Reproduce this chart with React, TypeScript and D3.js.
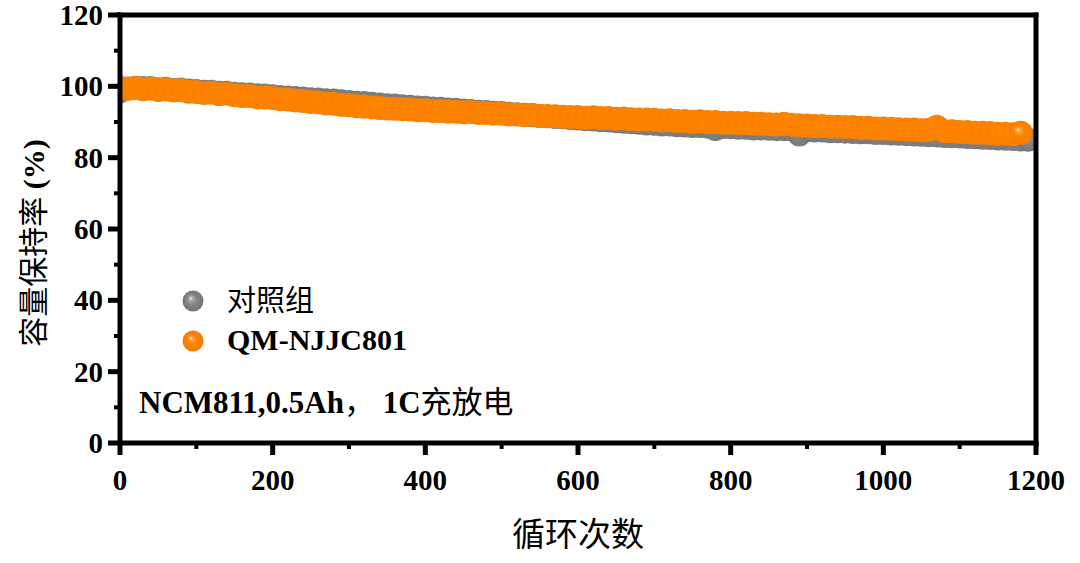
import React from "react";
import * as d3 from "d3";

const CYCLE_STEP = 10;

// 对照组 capacity retention (%) every 10 cycles, 0..1190
const controlValues = [
  98.6, 99.4, 99.6, 99.5, 99.5, 99.2, 99.3, 99.0, 99.1, 98.8,
  98.7, 98.5, 98.5, 98.2, 98.2, 97.9, 97.8, 97.7, 97.5, 97.4,
  97.2, 97.0, 96.9, 96.7, 96.6, 96.4, 96.3, 96.1, 96.0, 95.8,
  95.6, 95.4, 95.3, 95.1, 94.9, 94.7, 94.6, 94.4, 94.3, 94.1,
  94.0, 93.8, 93.7, 93.5, 93.4, 93.2, 93.1, 92.9, 92.8, 92.6,
  92.5, 92.3, 92.2, 92.0, 91.9, 91.7, 91.6, 91.4, 91.3, 91.1,
  91.0, 90.8, 90.7, 90.5, 90.4, 90.2, 90.1, 89.9, 89.8, 89.6,
  89.5, 89.3, 89.3, 89.1, 89.0, 88.9, 88.9, 88.7, 88.0, 88.6,
  88.5, 88.4, 88.4, 88.2, 88.2, 88.1, 88.0, 88.0, 87.9, 86.5,
  87.7, 87.6, 87.6, 87.4, 87.4, 87.3, 87.2, 87.1, 87.1, 86.9,
  86.9, 86.8, 86.7, 86.6, 86.5, 86.4, 86.3, 86.2, 86.1, 86.0,
  85.9, 85.8, 85.7, 85.6, 85.5, 85.4, 85.3, 85.2, 85.1, 85.0,
];

// QM-NJJC801 capacity retention (%) every 10 cycles, 0..1180
const qmValues = [
  99.6, 99.3, 99.5, 99.2, 99.4, 99.0, 99.1, 98.8, 98.9, 98.5,
  98.4, 98.1, 98.2, 97.8, 97.9, 97.5, 97.3, 97.3, 96.9, 96.9,
  96.7, 96.4, 96.3, 96.0, 95.9, 95.6, 95.5, 95.2, 95.1, 94.8,
  94.7, 94.4, 94.3, 94.1, 93.9, 93.8, 93.7, 93.6, 93.5, 93.3,
  93.3, 93.1, 93.1, 92.9, 92.9, 92.7, 92.8, 92.5, 92.5, 92.3,
  92.3, 92.1, 92.1, 91.9, 92.0, 91.7, 91.7, 91.6, 91.5, 91.4,
  91.4, 91.2, 91.3, 91.1, 91.1, 90.9, 91.0, 90.8, 90.7, 90.7,
  90.6, 90.4, 90.5, 90.3, 90.3, 90.1, 90.2, 90.0, 90.0, 89.8,
  89.8, 89.7, 89.7, 89.5, 89.5, 89.4, 89.3, 89.5, 89.2, 89.1,
  89.0, 88.9, 88.9, 88.7, 88.7, 88.6, 88.6, 88.4, 88.4, 88.2,
  88.2, 88.1, 88.0, 87.9, 87.9, 87.7, 87.8, 88.7, 87.5, 87.4,
  87.2, 87.2, 87.0, 87.0, 86.9, 86.7, 86.7, 86.6, 87.0,
];

const xTicks = [0, 200, 400, 600, 800, 1000, 1200];
const xMinorTicks = [100, 300, 500, 700, 900, 1100];
const yTicks = [0, 20, 40, 60, 80, 100, 120];
const yMinorTicks = [10, 30, 50, 70, 90, 110];

const seriesNames = ["对照组", "QM-NJJC801"];
const xTitle = "循环次数";
const yTitle = "容量保持率";
const yTitleUnit = " (%)";
const noteLatin = "NCM811,0.5Ah";
const noteComma = "，";
const noteRate = " 1C";
const noteCJK = "充放电";

const LATIN = "'Liberation Serif', 'Times New Roman', serif";
const CJK = "'Noto Sans CJK SC', sans-serif";
const MIXED = "'Liberation Serif', 'Noto Sans CJK SC', serif";

export default function App() {
  const W = 1080;
  const H = 563;
  const left = 120;
  const right = 1036;
  const top = 15;
  const bottom = 443;

  const x = d3.scaleLinear().domain([0, 1200]).range([left, right]);
  const y = d3.scaleLinear().domain([0, 120]).range([bottom, top]);

  const controlPts = controlValues.map((v, i) => ({ c: i * CYCLE_STEP, v }));
  const qmPts = qmValues.map((v, i) => ({ c: i * CYCLE_STEP, v }));
  const R = 12;
  const lastQ = qmPts.length - 1;
  const lastC = controlPts.length - 1;

  return (
    <svg
      width={W}
      height={H}
      viewBox={`0 0 ${W} ${H}`}
      style={{ position: "absolute", left: 0, top: 0, background: "#fff" }}
    >
      <defs>
        <radialGradient id="gOrange" cx="0.5" cy="0.5" r="0.5" fx="0.38" fy="0.36">
          <stop offset="0" stopColor="#fff0dc" />
          <stop offset="0.18" stopColor="#ffa040" />
          <stop offset="0.45" stopColor="#ff8400" />
          <stop offset="1" stopColor="#f57c00" />
        </radialGradient>
        <radialGradient id="gGray" cx="0.5" cy="0.5" r="0.5" fx="0.38" fy="0.36">
          <stop offset="0" stopColor="#f2f2f2" />
          <stop offset="0.2" stopColor="#a6a6a6" />
          <stop offset="0.5" stopColor="#858585" />
          <stop offset="1" stopColor="#747474" />
        </radialGradient>
        <radialGradient id="gOrangeFlat" cx="0.5" cy="0.5" r="0.5" fx="0.45" fy="0.42">
          <stop offset="0" stopColor="#ff8c14" />
          <stop offset="0.4" stopColor="#ff8400" />
          <stop offset="1" stopColor="#fa8000" />
        </radialGradient>
        <radialGradient id="gGrayFlat" cx="0.5" cy="0.5" r="0.5">
          <stop offset="0" stopColor="#8c8c8c" />
          <stop offset="1" stopColor="#7a7a7a" />
        </radialGradient>
        <clipPath id="plotClip">
          <rect x={left} y={top} width={right - left} height={bottom - top} />
        </clipPath>
      </defs>

      <g clipPath="url(#plotClip)">
        {controlPts.map((d, i) => (
          <circle
            key={"c" + i}
            cx={x(d.c)}
            cy={y(d.v)}
            r={R}
            fill={i === lastC ? "url(#gGray)" : "url(#gGrayFlat)"}
          />
        ))}
        {qmPts.map((d, i) => (
          <circle
            key={"q" + i}
            cx={x(d.c)}
            cy={y(d.v)}
            r={R}
            fill={i === lastQ ? "url(#gOrange)" : "url(#gOrangeFlat)"}
          />
        ))}
      </g>

      {/* frame */}
      <g stroke="#000" strokeWidth={5} fill="none" strokeLinecap="square">
        <line x1={left} y1={top} x2={right} y2={top} />
        <line x1={right} y1={top} x2={right} y2={bottom} />
        <line x1={left} y1={bottom} x2={right} y2={bottom} />
        <line x1={left} y1={top} x2={left} y2={bottom} />
      </g>

      {/* ticks */}
      <g stroke="#000">
        {xTicks.map((t) => (
          <line key={"xt" + t} x1={x(t)} x2={x(t)} y1={bottom} y2={bottom + 12} strokeWidth={5} />
        ))}
        {xMinorTicks.map((t) => (
          <line key={"xm" + t} x1={x(t)} x2={x(t)} y1={bottom} y2={bottom + 6} strokeWidth={4} />
        ))}
        {yTicks.map((t) => (
          <line key={"yt" + t} x1={left - 12} x2={left} y1={y(t)} y2={y(t)} strokeWidth={5} />
        ))}
        {yMinorTicks.map((t) => (
          <line key={"ym" + t} x1={left - 6} x2={left} y1={y(t)} y2={y(t)} strokeWidth={4} />
        ))}
      </g>

      {/* tick labels */}
      <g fontFamily={LATIN} fontWeight="bold" fontSize={29} fill="#000">
        {xTicks.map((t) => (
          <text key={"xl" + t} x={x(t)} y={490} textAnchor="middle">
            {t}
          </text>
        ))}
        {yTicks.map((t) => (
          <text key={"yl" + t} x={103} y={y(t) + 10} textAnchor="end">
            {t}
          </text>
        ))}
      </g>

      {/* axis titles */}
      <text x={578} y={546} textAnchor="middle" fontFamily={CJK} fontSize={33} fill="#000">
        {xTitle}
      </text>
      <text
        transform={`translate(44, 243) rotate(-90)`}
        textAnchor="middle"
        fontSize={30}
        fill="#000"
      >
        <tspan fontFamily={CJK}>{yTitle}</tspan>
        <tspan fontFamily={LATIN} fontWeight="bold">{yTitleUnit}</tspan>
      </text>

      {/* legend */}
      <circle cx={193} cy={301} r={10.5} fill="url(#gGray)" />
      <text x={227} y={311} fontFamily={CJK} fontSize={29} fill="#000">
        {seriesNames[0]}
      </text>
      <circle cx={193} cy={341} r={10.5} fill="url(#gOrange)" />
      <text x={227} y={350} fontFamily={LATIN} fontWeight="bold" fontSize={30} fill="#000">
        {seriesNames[1]}
      </text>

      {/* annotation */}
      <text x={139} y={413} fontSize={31} fill="#000" fontFamily={MIXED}>
        <tspan fontFamily={LATIN} fontWeight="bold">{noteLatin}</tspan>
        <tspan fontFamily={CJK}>{noteComma}</tspan>
        <tspan fontFamily={LATIN} fontWeight="bold">{noteRate}</tspan>
        <tspan fontFamily={CJK}>{noteCJK}</tspan>
      </text>
    </svg>
  );
}
